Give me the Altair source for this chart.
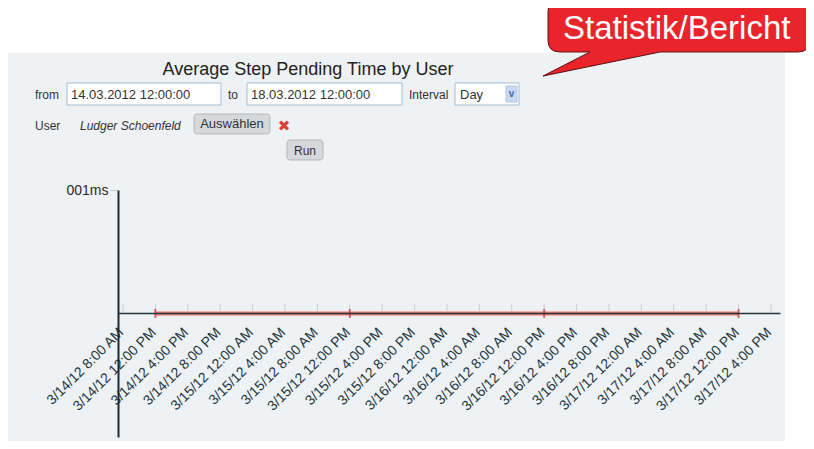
import json
import altair as alt
import pandas as pd

# ---------------- data ----------------
tick_times = [
    "2012-03-14T08:00", "2012-03-14T12:00", "2012-03-14T16:00", "2012-03-14T20:00",
    "2012-03-15T00:00", "2012-03-15T04:00", "2012-03-15T08:00", "2012-03-15T12:00",
    "2012-03-15T16:00", "2012-03-15T20:00", "2012-03-16T00:00", "2012-03-16T04:00",
    "2012-03-16T08:00", "2012-03-16T12:00", "2012-03-16T16:00", "2012-03-16T20:00",
    "2012-03-17T00:00", "2012-03-17T04:00", "2012-03-17T08:00", "2012-03-17T12:00",
    "2012-03-17T16:00",
]
tick_labels = [
    "3/14/12 8:00 AM", "3/14/12 12:00 PM", "3/14/12 4:00 PM", "3/14/12 8:00 PM",
    "3/15/12 12:00 AM", "3/15/12 4:00 AM", "3/15/12 8:00 AM", "3/15/12 12:00 PM",
    "3/15/12 4:00 PM", "3/15/12 8:00 PM", "3/16/12 12:00 AM", "3/16/12 4:00 AM",
    "3/16/12 8:00 AM", "3/16/12 12:00 PM", "3/16/12 4:00 PM", "3/16/12 8:00 PM",
    "3/17/12 12:00 AM", "3/17/12 4:00 AM", "3/17/12 8:00 AM", "3/17/12 12:00 PM",
    "3/17/12 4:00 PM",
]
point_times = ["2012-03-14T12:00", "2012-03-15T12:00", "2012-03-16T12:00", "2012-03-17T12:00"]
point_values = [0, 0, 0, 0]
y_tick_values = [0.01]
y_tick_labels = ["001ms"]
y_domain = [-0.01, 0.01]
x_domain = ["2012-03-14T07:23", "2012-03-17T17:07"]

chart_title = "Average Step Pending Time by User"
bubble_text = "Statistik/Bericht"
from_text, to_text = "14.03.2012 12:00:00", "18.03.2012 12:00:00"
interval_text = "Day"
user_text = "Ludger Schoenfeld"

# ---------------- helpers ----------------
OX, OY = 118, 190          # page position of the plot origin
FONT = "Liberation Sans"


def dt(s):
    t = pd.Timestamp(s)
    return alt.DateTime(year=t.year, month=t.month, date=t.day, hours=t.hour, minutes=t.minute)


one = pd.DataFrame({"k": [0]})
points = pd.DataFrame({"t": point_times, "v": point_values})
ticks = pd.DataFrame({"t": tick_times, "v": [0] * len(tick_times)})


def rect(x1, y1, x2, y2, **kw):
    return alt.Chart(one).mark_rect(**kw).encode(
        x=alt.value(x1 - OX), x2=alt.value(x2 - OX),
        y=alt.value(y1 - OY), y2=alt.value(y2 - OY))


def text(s, x, y, **kw):
    kw.setdefault("font", FONT)
    kw.setdefault("fontSize", 12)
    kw.setdefault("color", "#333333")
    kw.setdefault("align", "left")
    kw.setdefault("baseline", "alphabetic")
    return alt.Chart(one).mark_text(text=s, **kw).encode(
        x=alt.value(x - OX), y=alt.value(y - OY))


# ---------------- decorations ----------------
panel = rect(8, 53, 785, 460, color="#eef2f4")

bubble_path = ("M 12 0 H 250 Q 262 0 262 12 V 40 Q 262 52 250 52 H 112 "
               "L -5 76 L 42 52 H 12 Q 0 52 0 40 V 12 Q 0 0 12 0 Z")
bubble = alt.Chart(one).mark_point(
    shape=bubble_path, size=4, filled=True, fill="#e9252b",
    stroke="#5a1010", strokeWidth=1, opacity=1,
).encode(x=alt.value(548 - OX), y=alt.value(0 - OY))
bubble_label = text(bubble_text, 563, 39, fontSize=33, color="white")

title = text(chart_title, 308, 75, fontSize=18, color="#222222", align="center")

form = [
    text("from", 35, 99),
    rect(67, 83, 221, 105, fill="white", stroke="#9fbdd2", strokeWidth=1),
    text(from_text, 71, 99, fontSize=13),
    text("to", 228, 99),
    rect(247, 83, 402, 105, fill="white", stroke="#9fbdd2", strokeWidth=1),
    text(to_text, 251, 99, fontSize=13),
    text("Interval", 409, 99),
    rect(455, 83, 519, 105, fill="white", stroke="#9fbdd2", strokeWidth=1),
    text(interval_text, 460, 99, fontSize=13),
    rect(506, 86, 517, 102, fill="#c9d9ef", stroke="#b5c8e2", strokeWidth=1),
    text("v", 511.5, 97, fontSize=10, color="#3a68b8", fontWeight="bold", align="center"),
    text("User", 35, 130),
    text(user_text, 80, 130, fontStyle="italic"),
    rect(194, 114, 270, 134, fill="#d6d9db", stroke="#b2b7ba", strokeWidth=1, cornerRadius=3),
    text("Auswählen", 232, 128, align="center", fontSize=13),
    text("✖", 284, 131, font="DejaVu Sans", fontSize=15, color="#d8423c", align="center"),
    rect(287, 140, 323, 160, fill="#d6d9db", stroke="#b2b7ba", strokeWidth=1, cornerRadius=3),
    text("Run", 305, 154.5, align="center", fontSize=12),
]

# ---------------- chart ----------------
x_scale = alt.Scale(domain=[dt(x_domain[0]), dt(x_domain[1])])
y_scale = alt.Scale(domain=y_domain)
label_expr = ("%s[round((datum.value - datetime(2012, 2, 14, 8, 0)) / 14400000)]"
              % json.dumps(tick_labels))
x_axis = alt.Axis(
    values=[dt(s) for s in tick_times], labelExpr=label_expr,
    labelAngle=-45, labelAlign="right", labelBaseline="middle",
    labelPadding=17, labelOffset=-2, labelFontSize=14, labelFont=FONT,
    labelColor="#22343c", labelOverlap=False, labelFlush=False, labelBound=False,
    labelSeparation=0,
    domainColor="#24353c", domainWidth=1.5, ticks=False, grid=False,
    title=None, offset=-124, zindex=1,
)
y_axis = alt.Axis(
    values=y_tick_values, labelExpr=json.dumps(y_tick_labels[0]),
    labelFontSize=14, labelFont=FONT, labelColor="#2a2a2a", labelPadding=2,
    domainColor="#1c2a30", domainWidth=2, tickColor="#c3ccd1", tickSize=8,
    grid=False, title=None, zindex=1,
)

X = alt.X("t:T", scale=x_scale, axis=x_axis)
Y = alt.Y("v:Q", scale=y_scale, axis=y_axis)

tick_rules = alt.Chart(ticks).mark_rule(color="#c6cfd5", strokeWidth=1).encode(
    x=X, y=alt.value(304 - OY), y2=alt.value(313 - OY))
glow = alt.Chart(points).mark_line(color="#f4b0a8", strokeWidth=5).encode(x=X, y=Y)
line = alt.Chart(points).mark_line(color="#e5564f", strokeWidth=1.8).encode(x=X, y=Y)
markers = alt.Chart(points).mark_tick(
    color="#cf2f38", orient="vertical", thickness=2, size=9).encode(x=X, y=Y)

chart = alt.layer(
    panel, bubble, bubble_label, title, *form, tick_rules, glow, line, markers
).properties(
    width=662, height=247,
    autosize=alt.AutoSizeParams(type="none"),
    padding={"left": 110, "top": 182, "right": 26, "bottom": 4},
    background="white",
).configure_view(stroke=None)

chart.save("out.html", embed_options={"renderer": "svg", "actions": False})
